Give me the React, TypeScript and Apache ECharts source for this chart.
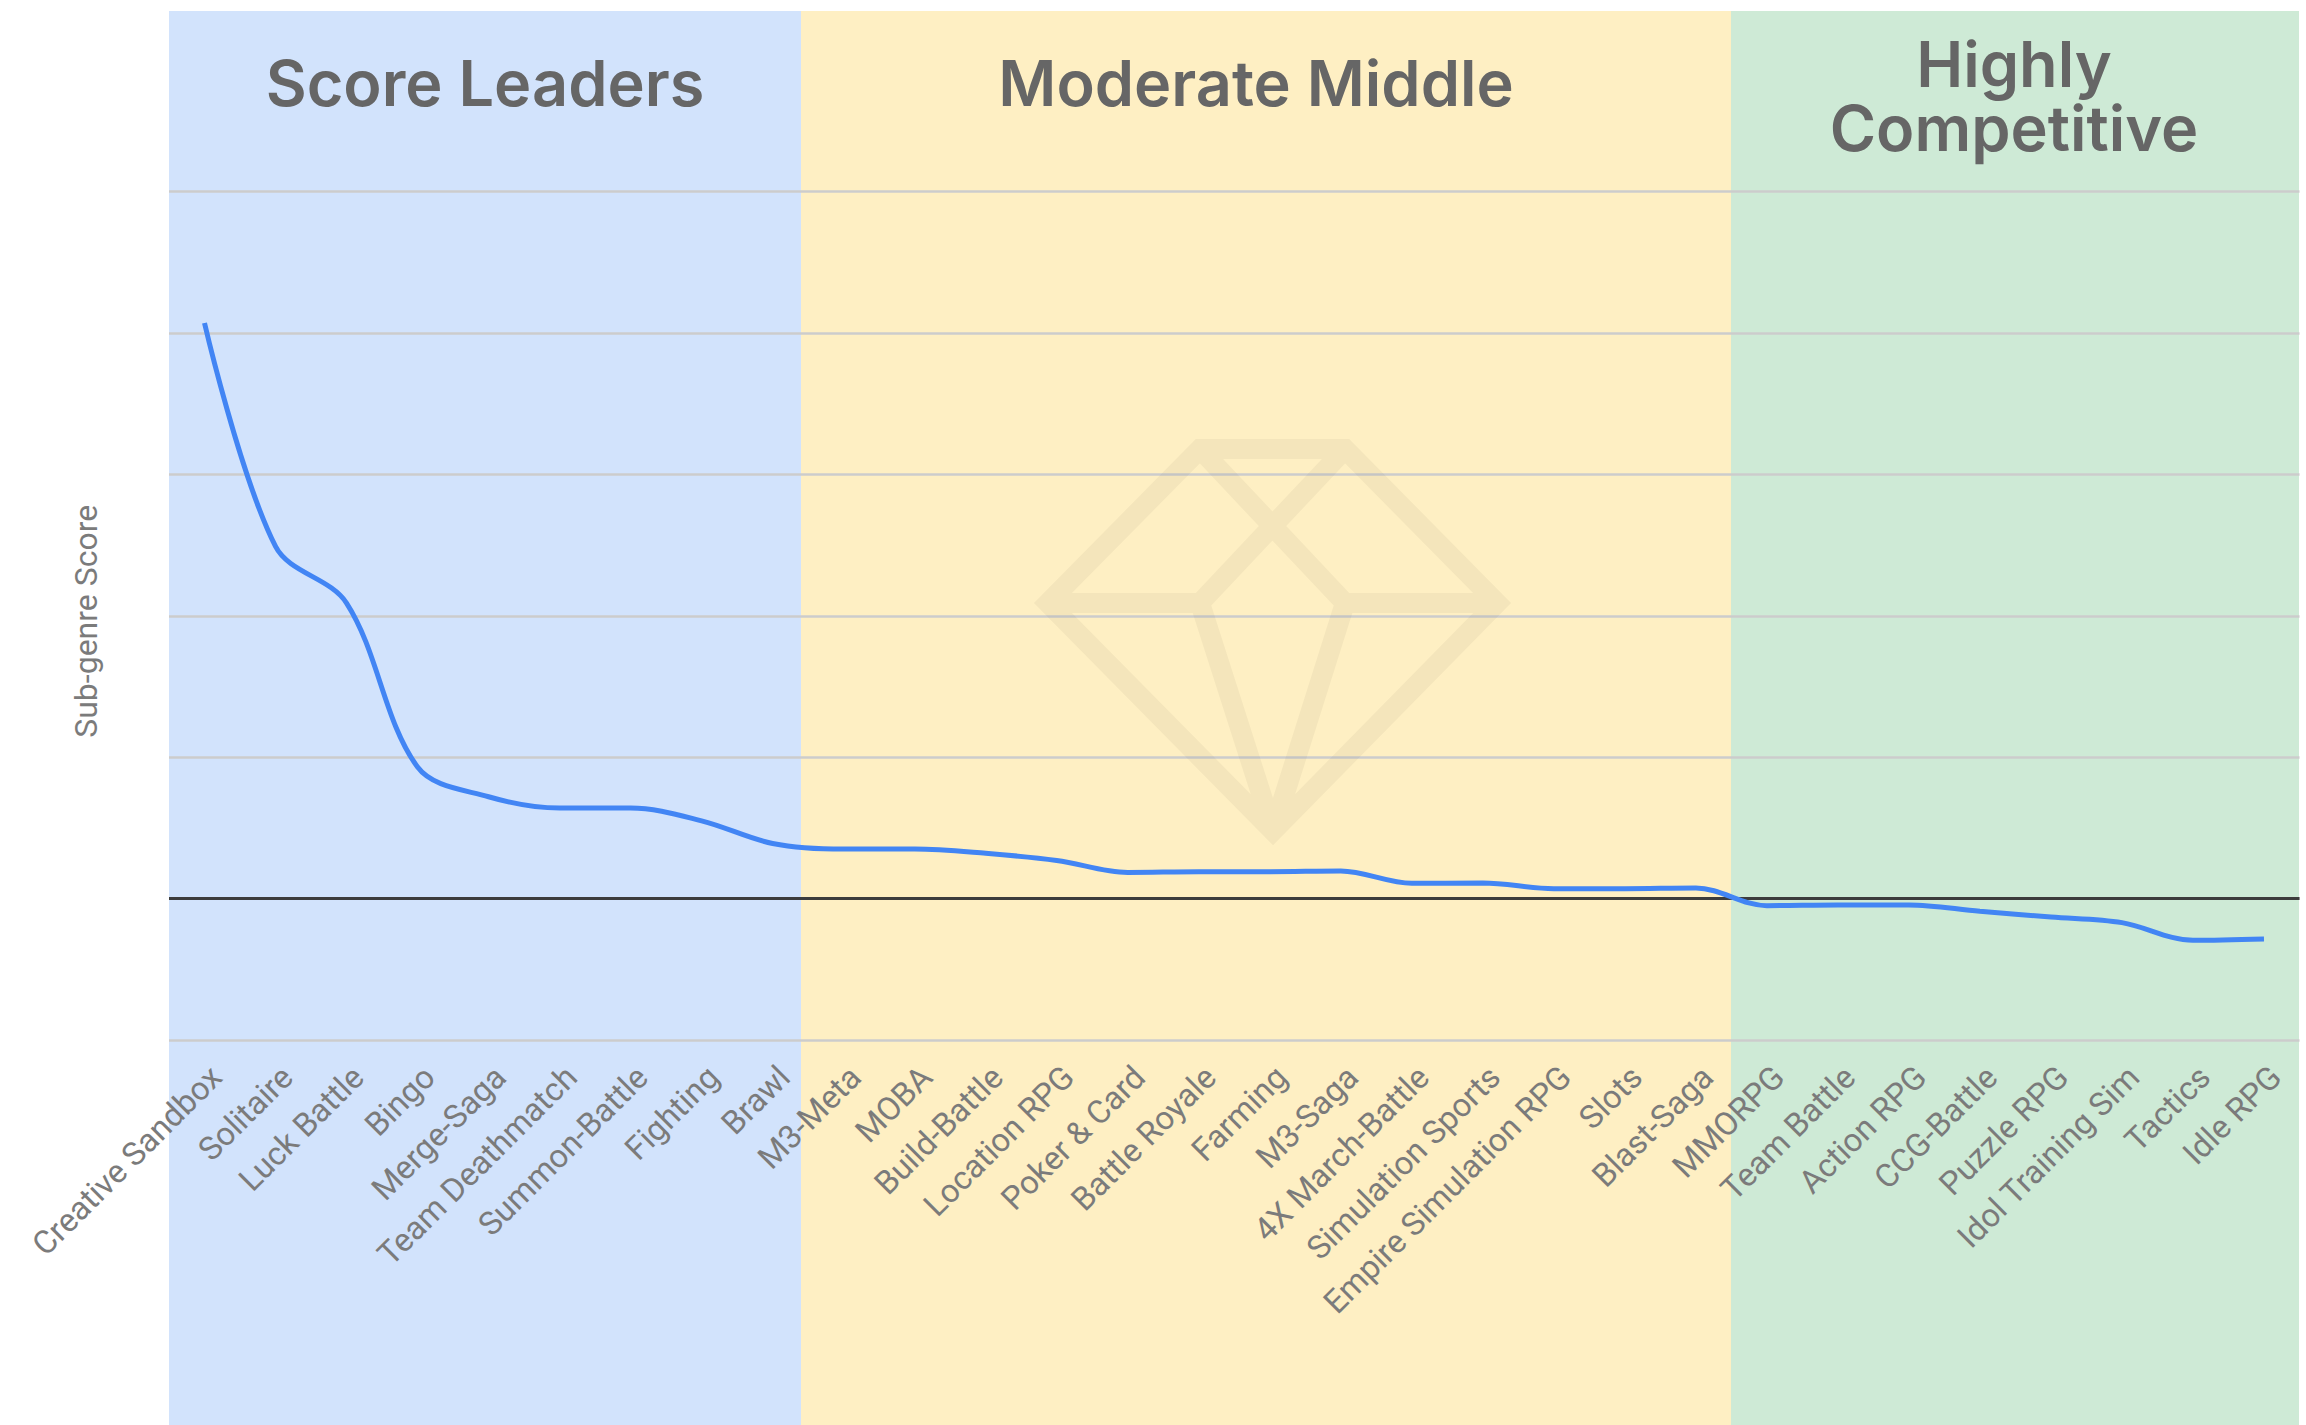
import React, { useEffect, useRef } from "react";
import * as echarts from "echarts";

const categories = ["Creative Sandbox","Solitaire","Luck Battle","Bingo","Merge-Saga","Team Deathmatch","Summon-Battle","Fighting","Brawl","M3-Meta","MOBA","Build-Battle","Location RPG","Poker & Card","Battle Royale","Farming","M3-Saga","4X March-Battle","Simulation Sports","Empire Simulation RPG","Slots","Blast-Saga","MMORPG","Team Battle","Action RPG","CCG-Battle","Puzzle RPG","Idol Training Sim","Tactics","Idle RPG"];
const scores = [4.07,2.49,2.09,0.93,0.72,0.64,0.64,0.55,0.39,0.35,0.35,0.32,0.27,0.185,0.19,0.19,0.195,0.108,0.11,0.07,0.07,0.075,-0.05,-0.045,-0.045,-0.09,-0.13,-0.17,-0.295,-0.285];
const yAxisName = "Sub-genre Score";
const bands = [
  { x0: 169, x1: 801, color: "#d2e3fc" },
  { x0: 801, x1: 1731, color: "#feefc3" },
  { x0: 1731, x1: 2299, color: "#ceead6" },
];
const headings = [
  { text: "Score Leaders", x: 485, y: 83 },
  { text: "Moderate Middle", x: 1256, y: 83 },
  { text: "Highly\nCompetitive", x: 2014, y: 96 },
];
const gemPath = "M1200 449 L1345 449 L1497 603 L1273 831 L1048 603 Z M1048 603 L1200 603 M1345 603 L1497 603 M1200 449 L1345 603 M1345 449 L1200 603 M1200 603 L1273 831 M1345 603 L1273 831";
echarts.graphic.registerShape("gem", echarts.graphic.extendPath(gemPath, {}));

export default function App() {
  const ref = useRef<HTMLDivElement>(null);
  useEffect(() => {
    document.body.style.margin = "0";
    const chart = echarts.init(ref.current!, null, { renderer: "svg" });
    chart.setOption({
      animation: false,
      backgroundColor: "#ffffff",
      graphic: [
        ...bands.map((b) => ({
          type: "rect", z: -10,
          shape: { x: b.x0, y: 11, width: b.x1 - b.x0, height: 1414 },
          style: { fill: b.color },
        })),
        {
          type: "gem", z: 1,
          style: { fill: "none", stroke: "rgba(90,80,60,0.06)", lineWidth: 20, lineJoin: "miter", miterLimit: 10 },
        },
        ...headings.map((h) => ({
          type: "text", z: 5, x: h.x, y: h.y,
          style: {
            text: h.text, fill: "#666666", align: "center", verticalAlign: "middle",
            font: "600 63px Inter", lineHeight: 64,
          },
        })),
      ],
      grid: { left: 169, right: 6.5, top: 191.5, bottom: 385, containLabel: false },
      xAxis: {
        type: "category", data: categories, boundaryGap: true,
        axisLine: { show: false }, axisTick: { show: false },
        axisLabel: { interval: 0, rotate: 45, margin: 20, verticalAlign: "top", color: "#7b7b7b", fontFamily: "Roboto", fontSize: 32.5 },
      },
      yAxis: {
        type: "value", min: -1, max: 5, interval: 1,
        name: yAxisName, nameLocation: "middle", nameGap: 67,
        nameTextStyle: { color: "#7b7b7b", fontFamily: "Roboto", fontSize: 32, padding: [0, 11, 0, 0] },
        axisLine: { show: false }, axisTick: { show: false }, axisLabel: { show: false },
        splitLine: { lineStyle: { color: "#cccccc", width: 2.5 } },
      },
      series: [{
        type: "line", data: scores, smooth: 0.34, showSymbol: false, z: 3,
        lineStyle: { color: "#4285f4", width: 5, cap: "butt" },
        markLine: {
          silent: true, symbol: "none", label: { show: false }, z: 2,
          lineStyle: { color: "#3c3c3c", width: 3, type: "solid" },
          data: [{ yAxis: 0 }],
        },
      }],
    });
    return () => chart.dispose();
  }, []);
  return <div ref={ref} style={{ position: "fixed", left: 0, top: 0, width: 2306, height: 1425 }} />;
}
